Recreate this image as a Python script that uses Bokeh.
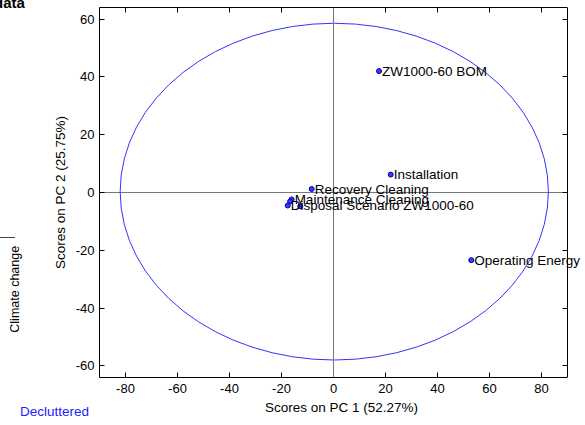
from bokeh.plotting import figure
from bokeh.models import (ColumnDataSource, LabelSet, Span, LinearAxis,
                          FixedTicker, Range1d, Div)
from bokeh.core.properties import value
from bokeh.embed import file_html
from bokeh.resources import INLINE

# ---- data ----
names = ["ZW1000-60 BOM", "Installation", "Recovery Cleaning",
         "Maintenance Cleaning", "", "Disposal Scenario ZW1000-60", "",
         "Operating Energy"]
pc1 = [17.5, 22.0, -8.4, -16.1, -16.7, -17.6, -12.8, 53.0]
pc2 = [42.0, 6.2, 1.2, -2.4, -3.1, -4.5, -4.8, -23.4]
x_ticks = [-80, -60, -40, -20, 0, 20, 40, 60, 80]
y_ticks = [-60, -40, -20, 0, 20, 40, 60]
x_lim = (-90, 90)
y_lim = (-64, 64)
ellipse_center = (0.3, 0.3)
ellipse_w, ellipse_h = 164.7, 116.5

FONT = "Liberation Sans"

# layout: axes box 468 px wide; the frame extends a little to the right of
# the box so that point labels may run past the right edge (as in the original)
W, H = 585, 425
BL, BR, BT, BB = 99, 2, 7, 48
box_px = 468.0
px_per_unit = box_px / (x_lim[1] - x_lim[0])
x_frame_end = x_lim[0] + (W - BL - BR) / px_per_unit

p = figure(width=W, height=H, output_backend="svg", toolbar_location=None,
           x_range=Range1d(x_lim[0], x_frame_end), y_range=Range1d(*y_lim),
           min_border_left=BL, min_border_right=BR, min_border_top=BT,
           min_border_bottom=BB, x_axis_label="Scores on PC 1 (52.27%)",
           y_axis_label="Scores on PC 2 (25.75%)")
p.grid.visible = False
p.outline_line_color = None
p.background_fill_color = "white"
p.border_fill_color = "white"

for ax, ticks in ((p.xaxis[0], x_ticks), (p.yaxis[0], y_ticks)):
    ax.ticker = FixedTicker(ticks=ticks)
    ax.major_label_overrides = {t: str(t) for t in ticks}
    ax.major_tick_in = 5
    ax.major_tick_out = 0
    ax.minor_tick_line_color = None
    ax.axis_line_color = "black"
    ax.major_tick_line_color = "black"
    ax.major_label_text_font = FONT
    ax.major_label_text_font_size = "13px"
    ax.major_label_text_color = "black"
    ax.axis_label_text_font = FONT
    ax.axis_label_text_font_size = "13.5px"
    ax.axis_label_text_font_style = "normal"
    ax.axis_label_text_color = "black"
p.xaxis[0].bounds = x_lim
p.xaxis[0].major_label_standoff = 6
p.xaxis[0].axis_label_standoff = 4
p.yaxis[0].major_label_standoff = 5
p.yaxis[0].axis_label_standoff = 5

top_ax = LinearAxis(ticker=FixedTicker(ticks=x_ticks), bounds=x_lim)
right_ax = LinearAxis(ticker=FixedTicker(ticks=y_ticks), fixed_location=x_lim[1])
for ax, ticks, loc in ((top_ax, x_ticks, "above"), (right_ax, y_ticks, "right")):
    ax.major_tick_in = 5
    ax.major_tick_out = 0
    ax.minor_tick_line_color = None
    ax.major_label_overrides = {t: " " for t in ticks}
    ax.major_label_text_font_size = "1px"
    ax.major_label_standoff = 0
    ax.axis_line_color = "black"
    ax.major_tick_line_color = "black"
    p.add_layout(ax, loc)

# cross-hair through the origin
p.add_layout(Span(location=0, dimension="height", line_color="#777777", line_width=1))
p.segment(x0=[x_lim[0]], x1=[x_lim[1]], y0=[0], y1=[0], line_color="#777777",
          line_width=1)

p.ellipse(x=[ellipse_center[0]], y=[ellipse_center[1]], width=[ellipse_w],
          height=[ellipse_h], fill_color=None, line_color="#3333ff", line_width=1)

src = ColumnDataSource(dict(x=pc1, y=pc2, name=names))
p.scatter("x", "y", source=src, size=5, fill_color="#3a3aff", line_color="#0000aa",
          line_width=1)
p.add_layout(LabelSet(x="x", y="y", text="name", source=src, x_offset=3, y_offset=0,
                      text_font=value(FONT), text_font_size=value("13.5px"),
                      text_color="black", text_baseline="middle"))

# texts outside the axes box (page annotations)
base = {"position": "absolute", "font-family": FONT, "white-space": "nowrap",
        "line-height": "1", "margin": "0", "padding": "0"}
d_climate = Div(text="Climate change", styles={**base, "left": "-30px", "top": "283px",
                "width": "90px", "font-size": "12.5px", "color": "black",
                "transform": "rotate(-90deg)", "transform-origin": "center center",
                "text-align": "center"})
d_declut = Div(text="Decluttered", styles={**base, "left": "20px", "top": "405px",
               "font-size": "13.5px", "color": "#2222ff"})
d_data = Div(text="data", styles={**base, "left": "-6px", "top": "-5px",
             "font-size": "15px", "font-weight": "bold", "color": "black"})
d_line = Div(text="", styles={**base, "left": "0px", "top": "237px", "width": "15px",
             "height": "0px", "border-top": "1px solid #444444"})
p.elements = [d_climate, d_declut, d_data, d_line]

open("out.html", "w").write(file_html(p, INLINE))
